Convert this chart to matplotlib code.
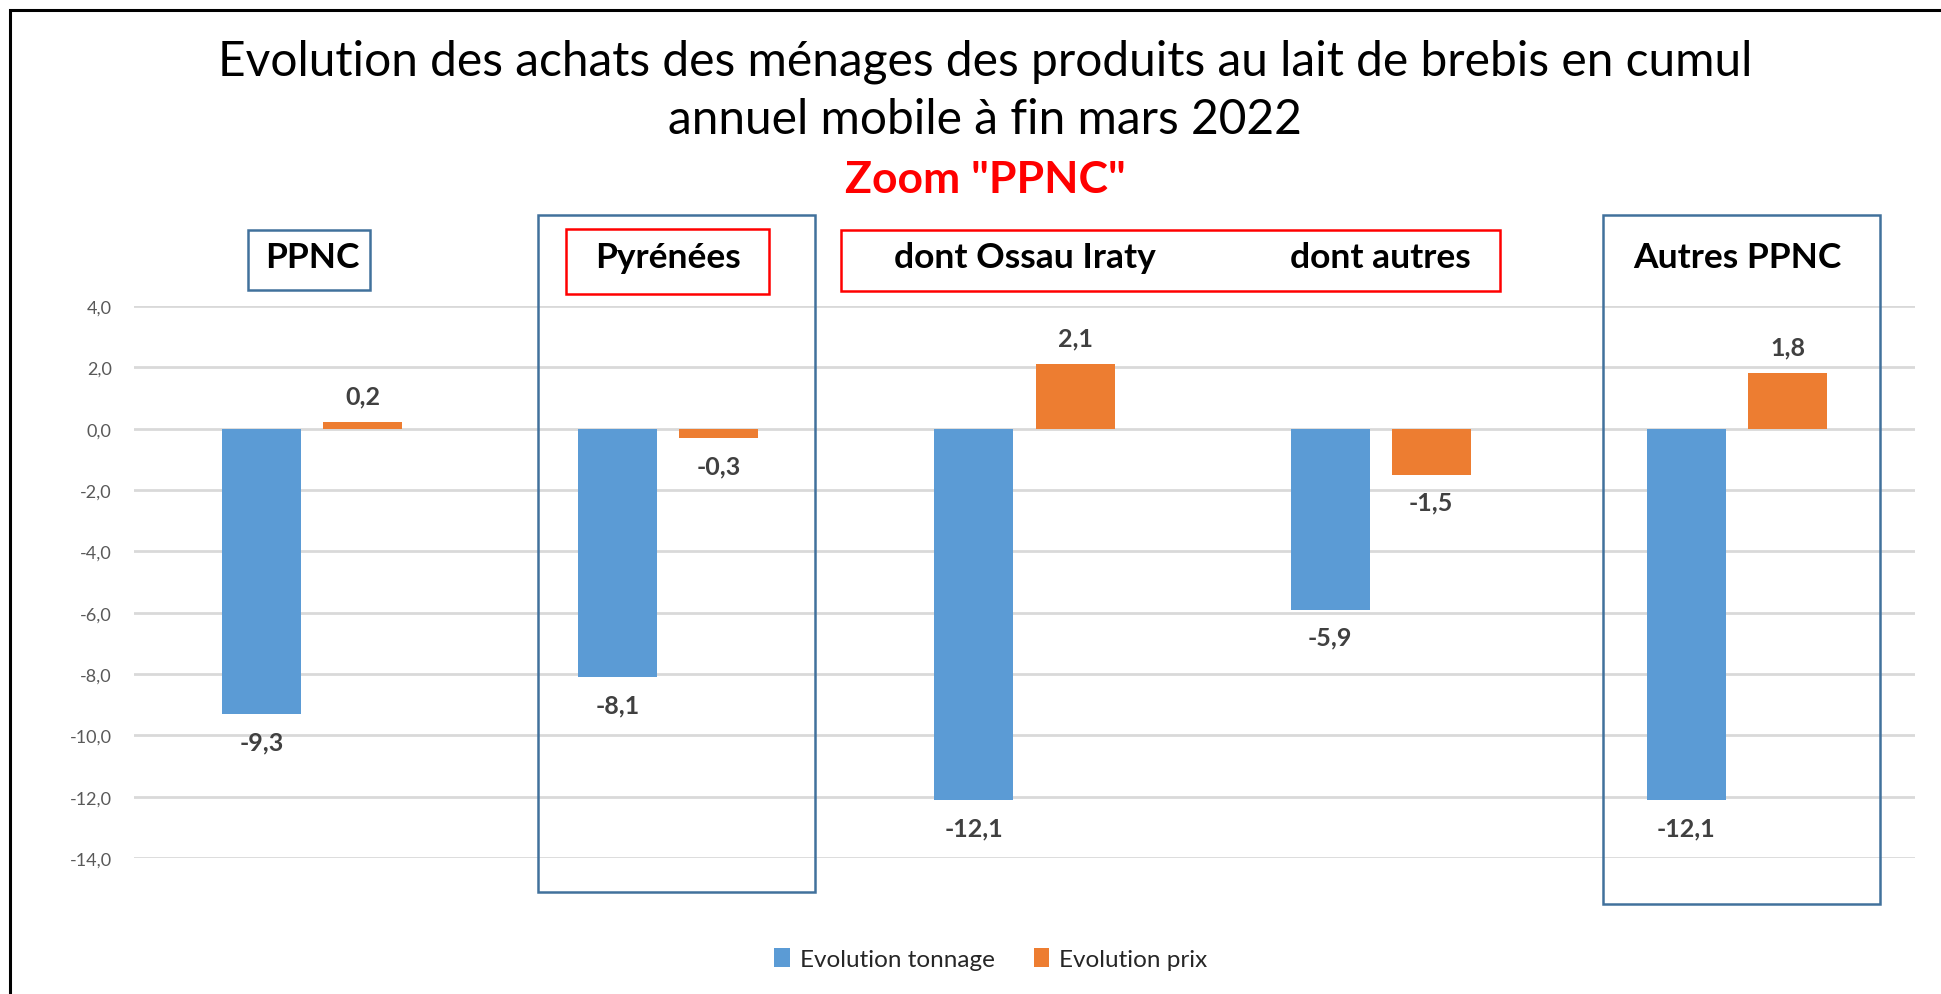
import matplotlib
matplotlib.use("Agg")
import matplotlib.pyplot as plt
from matplotlib.patches import Rectangle
import numpy as np

plt.rcParams['font.family'] = ['Lato', 'DejaVu Sans']

categories = ["PPNC", "Pyrénées", "dont Ossau Iraty", "dont autres", "Autres PPNC"]
tonnage = [-9.3, -8.1, -12.1, -5.9, -12.1]
prix = [0.2, -0.3, 2.1, -1.5, 1.8]
series_names = ["Evolution tonnage", "Evolution prix"]
yticks = [4, 2, 0, -2, -4, -6, -8, -10, -12, -14]
title_lines = ["Evolution des achats des ménages des produits au lait de brebis en cumul",
               "annuel mobile à fin mars 2022"]
subtitle = 'Zoom "PPNC"'

BLUE = '#5B9BD5'
ORANGE = '#ED7D31'
BOXBLUE = '#41719C'
RED = '#FF0000'
LABEL = '#404040'

fig = plt.figure(figsize=(19.41, 9.95), dpi=100)
ax = fig.add_axes([0.069, 0.1367, 0.9176, 0.5548])

x = np.arange(len(categories))
w = 0.222
off = 0.142
b1 = ax.bar(x - off, tonnage, w, color=BLUE, label=series_names[0], zorder=3)
b2 = ax.bar(x + off, prix, w, color=ORANGE, label=series_names[1], zorder=3)

def fmt(v):
    return f"{v:.1f}".replace('.', ',')

for bars, vals in ((b1, tonnage), (b2, prix)):
    for r, v in zip(bars, vals):
        yoff = 19 if v >= 0 else -20
        ax.annotate(fmt(v), (r.get_x() + r.get_width() / 2, v),
                    xytext=(0, yoff), textcoords='offset points',
                    ha='center', va='center', fontsize=18, fontweight='bold',
                    color=LABEL, zorder=5)

ax.set_xlim(-0.5, len(categories) - 0.5)
ax.set_ylim(-14, 4)
ax.set_yticks(yticks)
ax.set_yticklabels([fmt(float(t)) for t in yticks])
ax.tick_params(axis='y', length=0, pad=16, labelsize=13, labelcolor='#595959')
ax.set_xticks([])
ax.grid(axis='y', color='#D9D9D9', linewidth=2, zorder=0)
for s in ax.spines.values():
    s.set_visible(False)

# Header labels
hy = 5.61
for i, c in enumerate(categories):
    ax.text(i, hy, c, ha='center', va='center', fontsize=25.5, fontweight='bold',
            color='black', clip_on=False, zorder=6)

def box(x0, x1, y0, y1, color, lw):
    ax.add_patch(Rectangle((x0, y0), x1 - x0, y1 - y0, fill=False, edgecolor=color,
                           linewidth=lw, clip_on=False, zorder=4))

box(-0.179, 0.163, 4.53, 6.49, BOXBLUE, 1.8)
box(0.712, 1.282, 4.40, 6.51, RED, 1.8)
box(0.634, 1.412, -15.12, 6.977, BOXBLUE, 1.8)
box(1.484, 3.335, 4.50, 6.49, RED, 1.8)
box(3.624, 4.403, -15.5, 6.977, BOXBLUE, 1.8)

# Titles
cx = 0.5075
fig.text(cx, 1 - 62 / 995, title_lines[0], ha='center', va='center', fontsize=34.5,
         fontweight='normal', color='black')
fig.text(cx, 1 - 120 / 995, title_lines[1], ha='center', va='center', fontsize=34.5,
         fontweight='normal', color='black')
fig.text(cx, 1 - 180 / 995, subtitle, ha='center', va='center', fontsize=32,
         fontweight='bold', color=RED)

# Legend
fig.legend(handles=[b1, b2], labels=series_names, loc='center',
           bbox_to_anchor=(0.5105, 1 - 960 / 995), ncol=2, frameon=False,
           fontsize=17.5, handlelength=0.65, handleheight=0.85, handletextpad=0.4,
           columnspacing=1.6, labelcolor='#262626')

# Outer frame
fig.add_artist(Rectangle((10 / 1941, -0.1), 1.2, 1.1 - 11 / 995, fill=False,
                         edgecolor='black', linewidth=2.2, transform=fig.transFigure))

fig.savefig('out.png', dpi=100)
